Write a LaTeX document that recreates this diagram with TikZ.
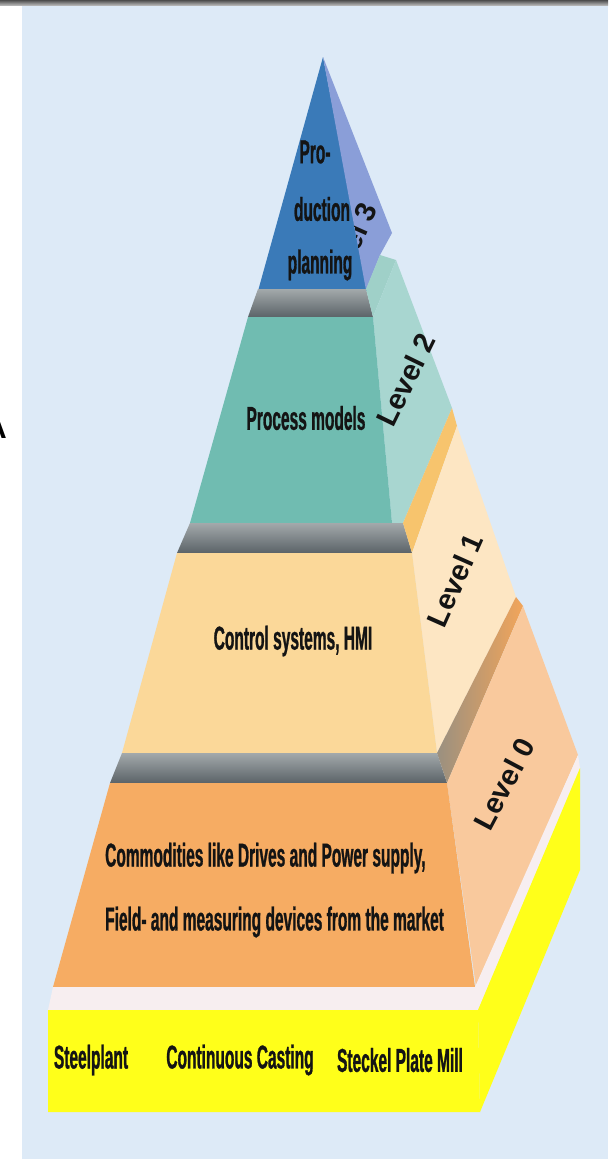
\documentclass[tikz,border=0pt]{standalone}
\usepackage{fontspec}
\newfontfamily\condf[FakeStretch=0.47,FakeBold=0.8]{Liberation Sans}
\newfontfamily\levf{Liberation Sans}
\definecolor{bgblue}{HTML}{DDEAF7}
\definecolor{bandtop}{HTML}{A3A9AB}
\definecolor{bandbot}{HTML}{5B6368}
\definecolor{lthreef}{HTML}{3A7AB8}
\definecolor{lthrees}{HTML}{8A9ED8}
\definecolor{ltwof}{HTML}{70BCB1}
\definecolor{ltwos}{HTML}{A8D6D0}
\definecolor{ltwostripe}{HTML}{9FD0C8}
\definecolor{lonef}{HTML}{FBD899}
\definecolor{lones}{HTML}{FDE6C3}
\definecolor{lonestripe}{HTML}{F7C46D}
\definecolor{lzerof}{HTML}{F6AC63}
\definecolor{lzeros}{HTML}{F9C99D}
\definecolor{stripegray}{HTML}{9A9080}
\definecolor{stripeorange}{HTML}{F2A55A}
\definecolor{baseyellow}{HTML}{FFFF1A}
\definecolor{basetop}{HTML}{F7EEF0}
\definecolor{txt}{HTML}{141414}
\tikzset{
  lbl/.style={font={\condf\bfseries\fontsize{33}{36}\selectfont}, text=txt, inner sep=0pt},
  lvl/.style={font={\levf\bfseries\fontsize{29}{31}\selectfont}, text=txt, inner sep=0pt},
  band/.style={top color=bandtop, bottom color=bandbot}
}
\begin{document}
\begin{tikzpicture}[x=1pt,y=-1pt]
\useasboundingbox (0,0) rectangle (608,1159);
% frame
\fill[white] (0,0) rectangle (608,1159);
\fill[bgblue] (22,5) rectangle (608,1159);
\shade[top color=black!70, bottom color=black!30] (0,0) rectangle (608,5);
\node[font={\levf\bfseries\fontsize{30}{32}\selectfont}, anchor=east, inner sep=0pt] (cut) at (7,428) {A};

% ---- Level 3
\fill[lthreef] (323,57) -- (258,291) -- (368,291) -- cycle;
\fill[lthrees] (323,57) -- (392,233) -- (380,255) -- (366,290) -- cycle;
\begin{scope}
  \clip (323,57) -- (392,233) -- (380,255) -- (366,290) -- cycle;
  \node[lvl, rotate=66] (lev3) at (349,249) {Level 3};
\end{scope}

% ---- Level 2
\shade[band] (258,289) -- (366,289) -- (373,317) -- (248,317) -- cycle;
\fill[ltwostripe] (366,289) -- (380,255) -- (396,260) -- (373,317) -- cycle;
\fill[ltwos] (373,317) -- (396,260) -- (452,408) -- (403,523) -- (392,523) -- cycle;
\fill[ltwof] (248,317) -- (373,317) -- (392,523) -- (190,523) -- cycle;

% ---- Level 1
\shade[band] (190,523) -- (403,523) -- (412,553) -- (177,553) -- cycle;
\fill[lonestripe] (403,523) -- (452,408) -- (457,426) -- (412,553) -- cycle;
\fill[lones] (412,553) -- (457,426) -- (516,597) -- (437,753) -- cycle;
\fill[lonef] (177,553) -- (412,553) -- (437,753) -- (122,753) -- cycle;

% ---- Level 0
\shade[band] (122,753) -- (437,753) -- (447,783) -- (110,783) -- cycle;
\shade[left color=stripegray, right color=stripeorange] (437,753) -- (516,597) -- (523,606) -- (447,783) -- cycle;
\fill[lzeros] (447,783) -- (523,606) -- (578,755) -- (476,987) -- cycle;
\fill[lzerof] (110,783) -- (447,783) -- (475,987) -- (53,987) -- cycle;

% ---- Base
\fill[basetop] (53,987) -- (475,987) -- (578,755) -- (580,768) -- (478,1010) -- (48,1010) -- cycle;
\fill[baseyellow] (478,1010) -- (580,768) -- (580,870) -- (480,1112) -- cycle;
\fill[baseyellow] (48,1010) -- (478,1010) -- (480,1112) -- (48,1112) -- cycle;

% ---- Texts
\node[lbl] (pro) at (315,152) {Pro-};
\node[lbl] (duc) at (322,209) {duction};
\node[lbl] (plan) at (320,265) {planning};
\node[lbl] (pm) at (306,418) {Process models};
\node[lbl] (cs) at (293,641) {Control systems, HMI};
\node[lbl, anchor=west] (com1) at (105,858) {Commodities like Drives and Power supply,};
\node[lbl, anchor=west] (com2) at (105,922) {Field- and measuring devices from the market};
\node[lbl] (steel) at (91,1060) {Steelplant};
\node[lbl] (cast) at (240,1060) {Continuous Casting};
\node[lbl] (mill) at (400,1060) {Steckel Plate Mill};

\node[lvl, rotate=64] (lev2) at (406,380) {Level 2};
\node[lvl, rotate=66] (lev1) at (455,580) {Level 1};
\node[lvl, rotate=62] (lev0) at (504,784) {Level 0};
\end{tikzpicture}
\end{document}
